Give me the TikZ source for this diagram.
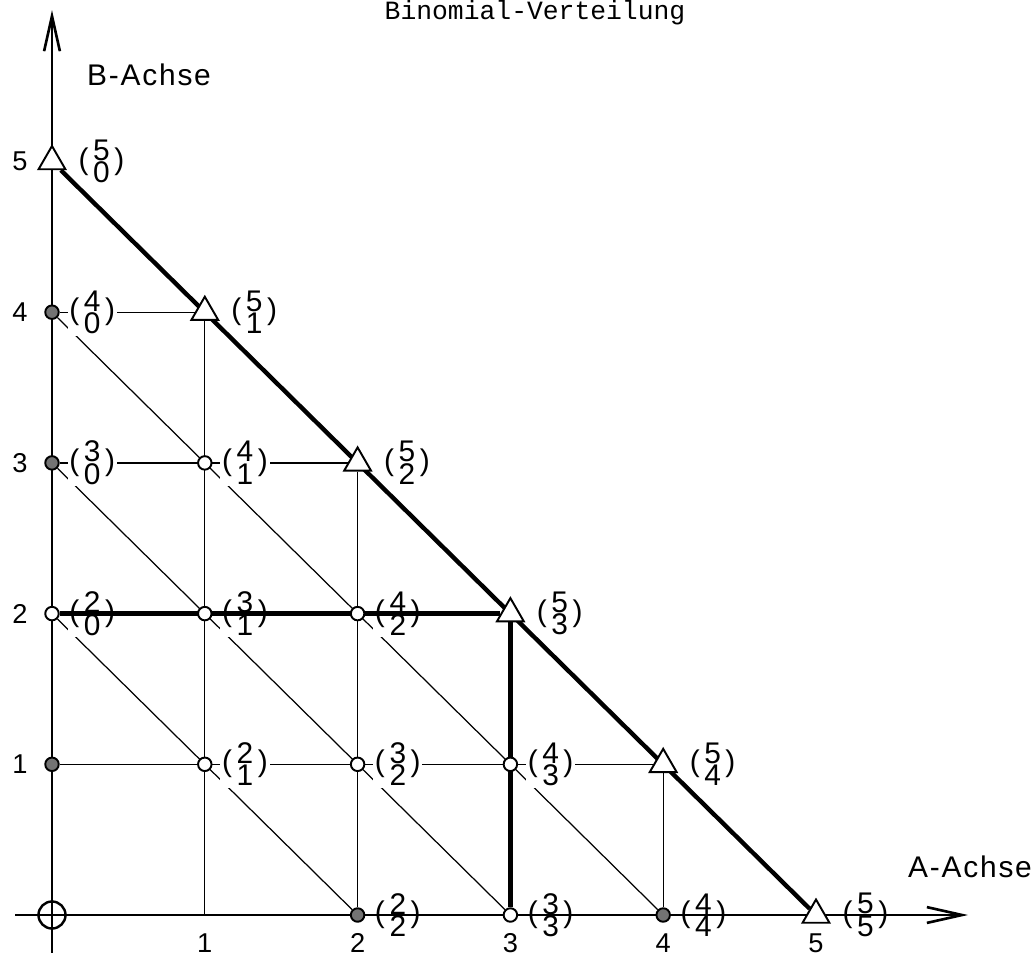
\documentclass[tikz,border=0pt]{standalone}
\usepackage{fontspec}
\setmainfont{Liberation Sans}
\newfontfamily\ttlfont{Liberation Mono}
\newfontfamily\axfont[LetterSpace=6]{Liberation Sans}
\usetikzlibrary{arrows.meta,shapes.geometric}
\pgfdeclarelayer{thinlines}
\pgfdeclarelayer{labels}
\pgfdeclarelayer{thicklines}
\pgfsetlayers{thinlines,labels,thicklines,main}

% binomial label (n over k)
\newcommand{\bnm}[2]{(\kern2.6pt$\vcenter{\baselineskip=12.8pt\hbox{#1}\hbox{#2}}$\kern2.6pt)}

\begin{document}
\begin{tikzpicture}[x=3.056cm, y=3.014cm,
  tri/.style={regular polygon, regular polygon sides=3, draw, fill=white,
              line width=1.1pt, minimum size=0.62cm, inner sep=0pt},
  opn/.style={circle, draw, fill=white, line width=1.1pt,
              minimum size=0.27cm, inner sep=0pt},
  gry/.style={opn, fill=black!55},
  orig/.style={circle, draw, line width=1.4pt, minimum size=0.54cm, inner sep=0pt},
  thinln/.style={line width=0.7pt},
  thickln/.style={line width=2.5pt},
  axisln/.style={line width=1.5pt},
  axtip/.style={-{Straight Barb[length=20pt, width=9pt]}},
  lbl/.style={fill=white, inner sep=1pt, font=\fontsize{17}{20}\selectfont},
  num/.style={inner sep=0pt, font=\fontsize{15.5}{18}\selectfont},
  ttl/.style={inner sep=0pt, font=\ttlfont\fontsize{15}{18}\selectfont},
  axlab/.style={inner sep=0pt, font=\axfont\fontsize{17}{20}\selectfont},
  ]
\useasboundingbox (-0.3403,-0.2787) rectangle (6.4398,6.0717);

% ---- Grid points -----------------------------------------------------------
\node[orig] (p00) at (0,0) {};
\coordinate (p10) at (1,0);
\foreach \x/\y in {0/5, 1/4, 2/3, 3/2, 4/1, 5/0}
  \node[tri] (p\x\y) at (\x,\y) {};
\foreach \x/\y in {0/2, 1/3, 1/2, 1/1, 2/2, 2/1, 3/1, 3/0}
  \node[opn] (p\x\y) at (\x,\y) {};
\foreach \x/\y in {0/4, 0/3, 0/1, 2/0, 4/0}
  \node[gry] (p\x\y) at (\x,\y) {};

% ---- Binomial labels -------------------------------------------------------
\begin{pgfonlayer}{labels}
\foreach \x/\y/\dx in {0/5/0.16, 1/4/0.16, 2/3/0.16, 3/2/0.16, 4/1/0.16, 5/0/0.16,
                       0/4/0.10, 1/3/0.10, 2/2/0.10, 3/1/0.10, 4/0/0.10,
                       0/3/0.10, 1/2/0.10, 2/1/0.10, 3/0/0.10,
                       0/2/0.10, 1/1/0.10, 2/0/0.10} {
  \pgfmathtruncatemacro{\n}{\x+\y}
  \node[lbl, anchor=west] (l\x\y) at (\x+\dx,\y) {\bnm{\n}{\x}};
}
\end{pgfonlayer}

% ---- Thin grid lines -------------------------------------------------------
\begin{pgfonlayer}{thinlines}
\draw[thinln] (p04) -- (p14);
\draw[thinln] (p03) -- (p23);
\draw[thinln] (p01) -- (p41);
\draw[thinln] (p14) -- (p10);
\draw[thinln] (p23) -- (p20);
\draw[thinln] (p41) -- (p40);
\draw[thinln] (p04) -- (p40);
\draw[thinln] (p03) -- (p30);
\draw[thinln] (p02) -- (p20);
\end{pgfonlayer}

% ---- Axes and thick paths --------------------------------------------------
\coordinate (xbeg) at (-0.242,0);
\coordinate (xend) at (5.995,0);
\coordinate (ybeg) at (0,-0.252);
\coordinate (yend) at (0,6.005);
\begin{pgfonlayer}{thicklines}
\draw[axisln, axtip] (xbeg) -- (xend);
\draw[axisln, axtip] (ybeg) -- (yend);
\draw[thickln] (p05) -- (p50);
\draw[thickln] (p02) -- (p32) -- (p30);
\end{pgfonlayer}

% ---- Tick numbers ----------------------------------------------------------
\foreach \i in {1,...,5} {
  \node[num] (xt\i) at (\i,-0.186) {\i};
  \node[num] (yt\i) at (-0.209,\i) {\i};
}

% ---- Titles ----------------------------------------------------------------
\node[ttl] (title) at (3.161,5.985) {Binomial-Verteilung};
\node[axlab] (bax) at (0.635,5.574) {B-Achse};
\node[axlab] (aax) at (6.008,0.319) {A-Achse};

\end{tikzpicture}
\end{document}
